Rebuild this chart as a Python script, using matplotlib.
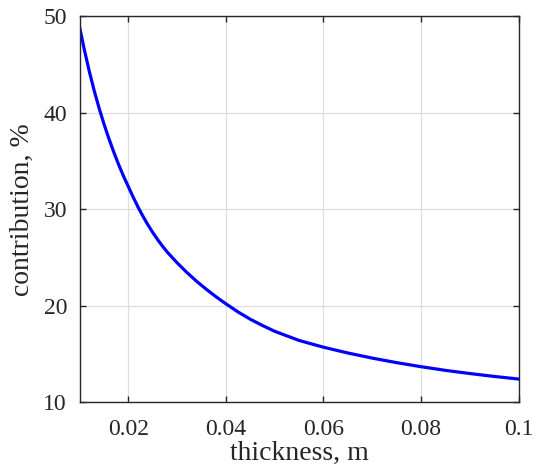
import matplotlib
matplotlib.use('Agg')
import matplotlib.pyplot as plt

# thickness (m) vs contribution (%)
thickness = [0.010, 0.011, 0.012, 0.013, 0.014, 0.015, 0.016, 0.017, 0.018, 0.019,
             0.020, 0.021, 0.022, 0.023, 0.024, 0.025, 0.026, 0.027, 0.028, 0.030,
             0.032, 0.034, 0.036, 0.038, 0.040, 0.0425, 0.045, 0.0475, 0.050, 0.055,
             0.060, 0.065, 0.070, 0.075, 0.080, 0.085, 0.090, 0.095, 0.100]
contribution = [48.9, 46.5, 44.3, 42.3, 40.5, 38.85, 37.35, 35.95, 34.65, 33.45,
                32.35, 31.25, 30.22, 29.27, 28.4, 27.6, 26.86, 26.18, 25.55, 24.45,
                23.45, 22.53, 21.7, 20.92, 20.2, 19.35, 18.6, 17.95, 17.35, 16.4,
                15.7, 15.1, 14.57, 14.1, 13.68, 13.3, 12.97, 12.67, 12.4]

xticks = [0.02, 0.04, 0.06, 0.08, 0.1]
xticklabels = ['0.02', '0.04', '0.06', '0.08', '0.1']
yticks = [10, 20, 30, 40, 50]

plt.rcParams['font.family'] = ['Liberation Serif', 'DejaVu Serif']

fig = plt.figure(figsize=(5.38, 4.73), dpi=100)
ax = fig.add_axes([0.1478, 0.1497, 0.816, 0.816])

ax.plot(thickness, contribution, color='#0000ff', lw=2.3)

ax.set_xlim(0.01, 0.1)
ax.set_ylim(10, 50)
ax.set_xticks(xticks)
ax.set_xticklabels(xticklabels)
ax.set_yticks(yticks)
ax.grid(True, color='#dedede', lw=0.9)
ax.set_axisbelow(True)

for s in ax.spines.values():
    s.set_color('#262626')
    s.set_linewidth(1.0)
ax.tick_params(direction='in', top=True, right=True, length=4, width=1.0,
               colors='#262626', labelsize=17, pad=9)
ax.tick_params(axis='x', pad=12)

ax.set_xlabel('thickness, m', fontsize=20, color='#262626', labelpad=1)
ax.set_ylabel('contribution, %', fontsize=20, color='#262626', labelpad=6)

fig.savefig('out.png', dpi=100)
